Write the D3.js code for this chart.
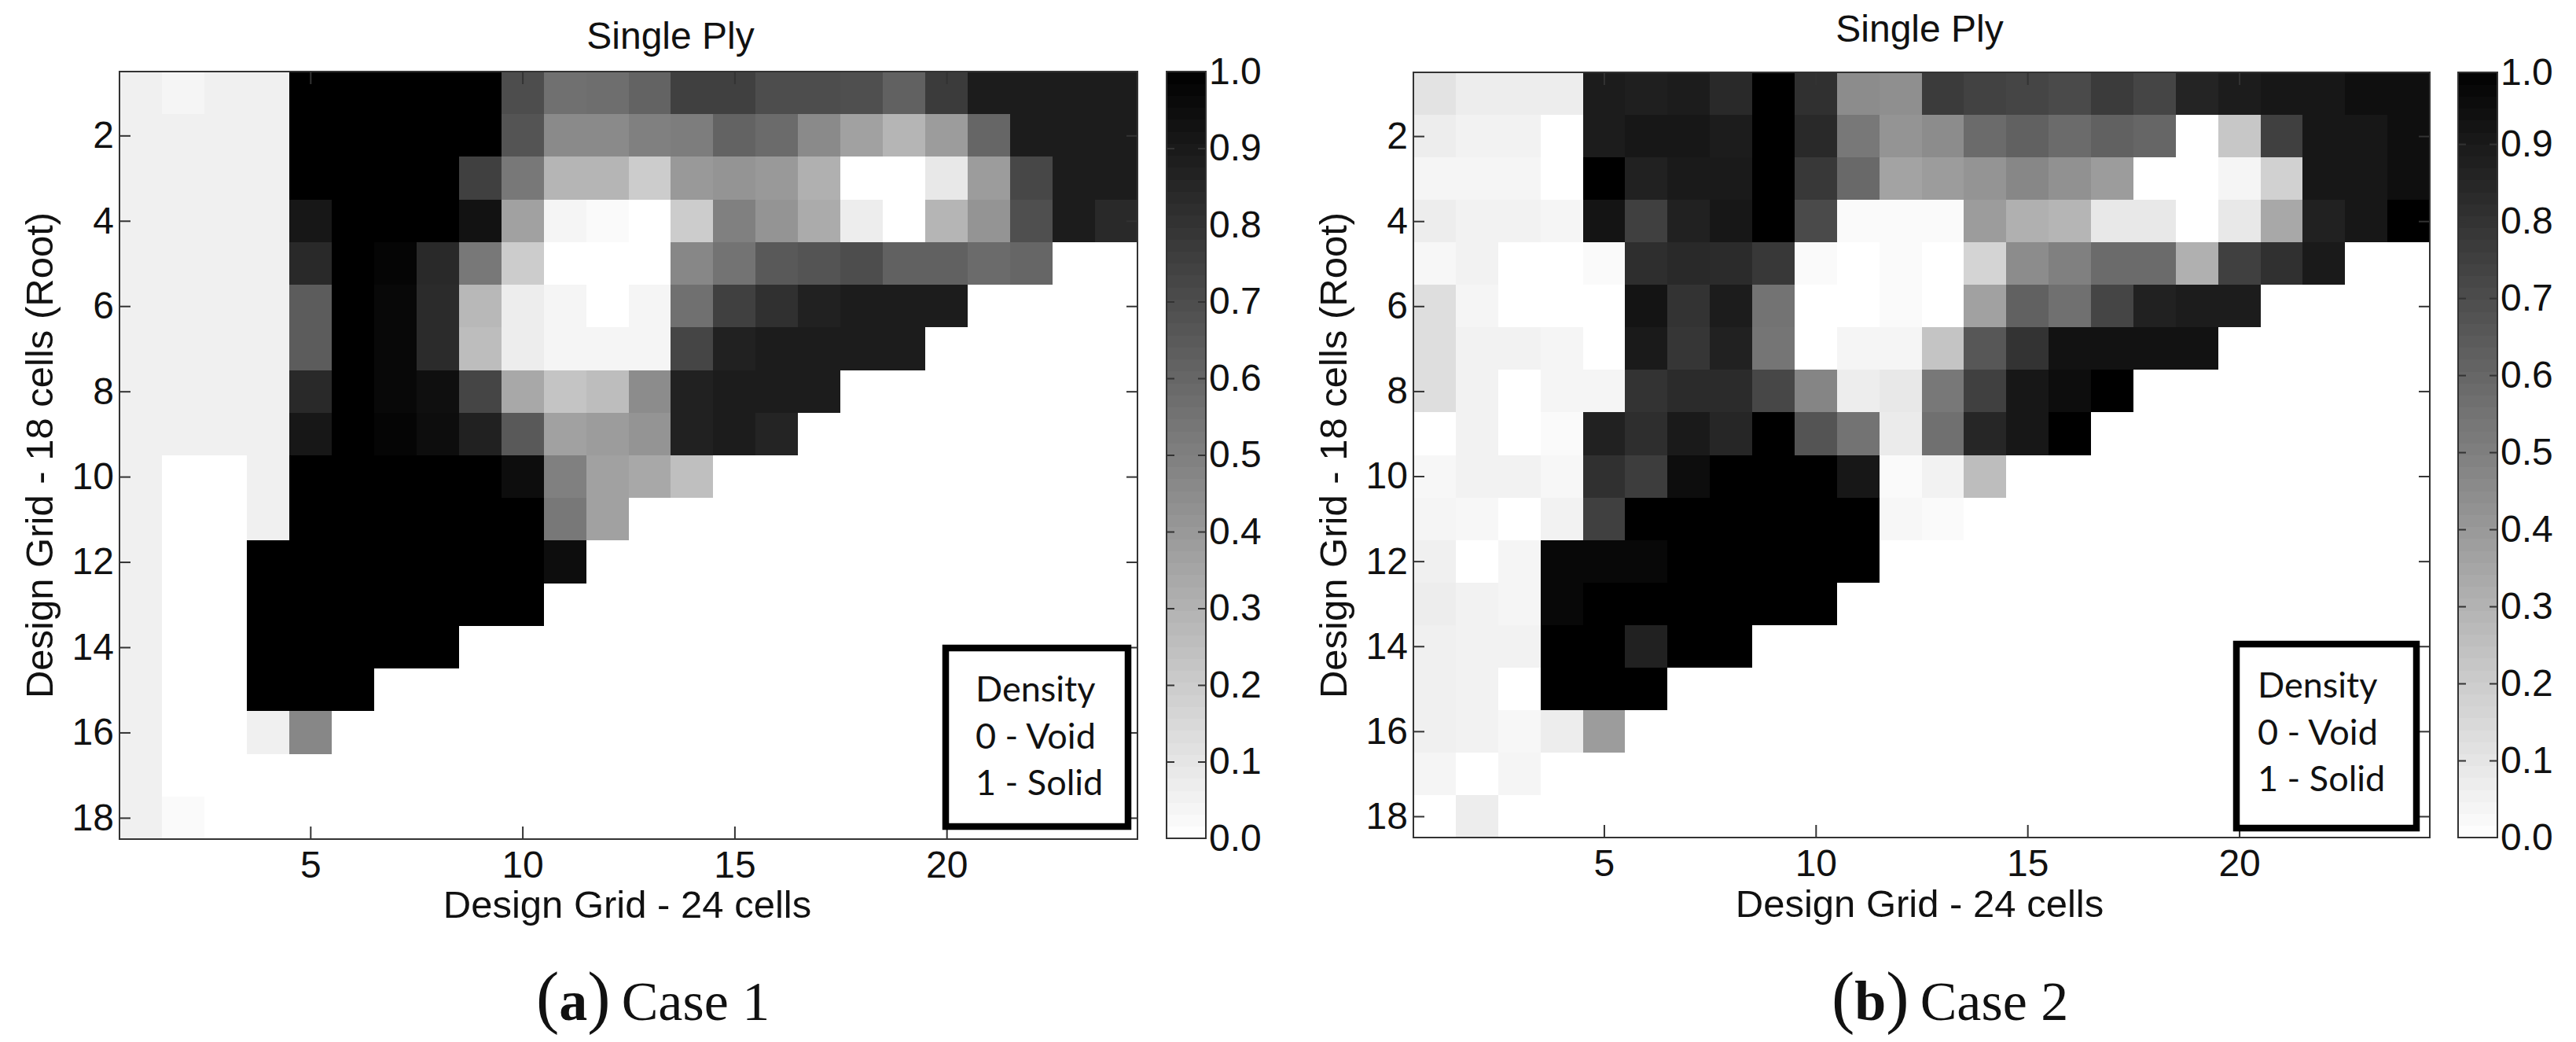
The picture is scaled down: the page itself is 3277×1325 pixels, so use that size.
<!DOCTYPE html>
<html><head><meta charset="utf-8">
<script src="https://cdn.jsdelivr.net/npm/d3@7"></script>
<style>
html,body{margin:0;padding:0;background:#fff;overflow:hidden}
svg{display:block}
text{font-family:"Liberation Sans",Arial,sans-serif;fill:#111}
</style></head><body>
<svg id="c" width="3277" height="1325"></svg>
<script>
// Density per row (1..18), column 1 first. A row stops where the void region begins.
const caseOneDensity = [
[.06,.04,.06,.06,1,1,1,1,1,.70,.56,.57,.61,.75,.75,.70,.70,.69,.62,.77,.89,.89,.89,.89],
[.06,.06,.06,.06,1,1,1,1,1,.67,.46,.46,.50,.51,.61,.58,.46,.37,.29,.39,.60,.89,.89,.89],
[.06,.06,.06,.06,1,1,1,1,.75,.53,.29,.29,.20,.40,.42,.40,.31,0,0,.09,.39,.72,.89,.89],
[.06,.06,.06,.06,.91,1,1,1,.93,.37,.04,.02,0,.20,.50,.42,.33,.07,0,.29,.42,.69,.89,.84],
[.06,.06,.06,.06,.84,1,.98,.84,.53,.20,0,0,0,.47,.55,.65,.67,.70,.62,.62,.58,.60],
[.06,.06,.06,.06,.64,1,.97,.83,.28,.07,.04,0,.04,.56,.75,.81,.87,.89,.89,.89],
[.06,.06,.06,.06,.64,1,.97,.83,.26,.07,.04,.04,.04,.73,.87,.89,.89,.89,.89],
[.06,.06,.06,.06,.84,1,.97,.94,.73,.34,.23,.26,.45,.87,.89,.89,.89],
[.06,.06,.06,.06,.91,1,.98,.95,.87,.65,.37,.39,.42,.87,.89,.86],
[.06,0,0,.06,1,1,1,1,1,.95,.50,.37,.34,.25],
[.06,0,0,.06,1,1,1,1,1,1,.53,.37],
[.06,0,0,1,1,1,1,1,1,1,.95],
[.06,0,0,1,1,1,1,1,1,1],
[.06,0,0,1,1,1,1,1],
[.06,0,0,1,1,1],
[.06,0,0,.06,.47],
[.06],
[.06,.02]
];
const caseTwoDensity = [
[.11,.07,.07,.07,.89,.88,.89,.84,1,.81,.45,.44,.77,.74,.73,.71,.77,.73,.86,.89,.91,.91,.94,.94],
[.07,.05,.05,0,.89,.91,.91,.89,1,.84,.53,.42,.45,.58,.62,.58,.62,.60,0,.22,.75,.91,.91,.94],
[.04,.04,.04,0,1,.87,.90,.90,1,.78,.59,.36,.39,.42,.47,.43,.39,0,0,.04,.18,.91,.91,.94],
[.07,.05,.05,.04,.92,.75,.87,.91,1,.71,.02,.02,.02,.39,.31,.29,.09,.09,0,.09,.34,.87,.91,1],
[.03,.05,0,0,.02,.82,.84,.83,.78,.02,0,.02,0,.17,.45,.50,.58,.58,.31,.75,.81,.90],
[.13,.04,0,0,0,.92,.80,.89,.55,0,0,.02,0,.37,.62,.56,.73,.87,.89,.89],
[.13,.05,.05,.04,0,.90,.79,.87,.54,0,.04,.04,.23,.66,.80,.93,.93,.93,.93],
[.13,.05,0,.04,.04,.80,.83,.83,.72,.48,.07,.09,.53,.75,.91,.95,1],
[0,.05,0,.02,.87,.82,.90,.85,1,.67,.55,.08,.56,.85,.91,1],
[.03,.05,.05,.03,.81,.76,.95,1,1,1,.91,.02,.05,.26],
[.04,.03,0,.05,.75,1,1,1,1,1,1,.03,.02],
[.06,0,.04,.97,.97,.97,1,1,1,1,1],
[.07,.05,.04,.97,1,1,1,1,1,1],
[.06,.05,.05,1,1,.87,1,1],
[.06,.05,0,1,1,1],
[.06,.05,.03,.07,.39],
[.04,0,.04],
[0,.07]
];
const xTicks = [5,10,15,20];
const yTicks = [2,4,6,8,10,12,14,16,18];
const barTicks = [0,.1,.2,.3,.4,.5,.6,.7,.8,.9,1];
const title = "Single Ply";
const xTitle = "Design Grid - 24 cells";
const yTitle = "Design Grid - 18 cells (Root)";
const legendLines = ["Density","0 - Void","1 - Solid"];
const captionOne = ["a","Case 1"];
const captionTwo = ["b","Case 2"];

const svg = d3.select("#c");
const gray = d3.scaleLinear().domain([0,1]).range(["#ffffff","#000000"]);

const panels = [
 {data:caseOneDensity, x0:152,x1:1447,y0:91,y1:1067,
  titleX:853,titleY:62,xLabX:798,xLabY:1167,yLabX:67,yLabY:579,
  bar:[1484,1534,91,1066],barMax:1,
  leg:[1199,820,240,235],legX:1241,legY:[892,952,1011],
  cap:captionOne,capX:682,capY:1297},
 {data:caseTwoDensity, x0:1798,x1:3091,y0:92,y1:1065,
  titleX:2442,titleY:53,xLabX:2442,xLabY:1166,yLabX:1713,yLabY:579,
  bar:[3127,3177,92,1065],barMax:.993,
  leg:[2841,815,237,242],legX:2872,legY:[887,947,1006],
  cap:captionTwo,capX:2330,capY:1297}
];

function styleAxis(g){
  g.select(".domain").remove();
  g.selectAll("line").attr("stroke","#333").attr("stroke-width",2);
  g.selectAll("text").attr("font-size",48).attr("fill","#111")
   .attr("font-family",'"Liberation Sans",Arial,sans-serif');
}

panels.forEach(p=>{
  const g = svg.append("g");
  const x = d3.scaleLinear().domain([.5,24.5]).range([p.x0,p.x1]);
  const y = d3.scaleLinear().domain([.5,18.5]).range([p.y0,p.y1]);

  p.data.forEach((row,r)=>{
    g.append("g").selectAll("rect").data(row).join("rect")
     .attr("x",(d,c)=>x(c+.5)).attr("width",(d,c)=>x(c+1.5)-x(c+.5))
     .attr("y",y(r+.5)).attr("height",y(r+1.5)-y(r+.5))
     .attr("fill",d=>gray(d)).attr("shape-rendering","crispEdges");
  });

  g.append("g").attr("transform",`translate(0,${p.y1})`)
   .call(d3.axisBottom(x).tickValues(xTicks).tickSize(-16).tickPadding(15)).call(styleAxis);
  g.append("g").attr("transform",`translate(0,${p.y0})`)
   .call(d3.axisTop(x).tickValues(xTicks).tickSize(-16).tickFormat("")).call(styleAxis);
  g.append("g").attr("transform",`translate(${p.x0},0)`)
   .call(d3.axisLeft(y).tickValues(yTicks).tickSize(-14).tickPadding(7)).call(styleAxis);
  g.append("g").attr("transform",`translate(${p.x1},0)`)
   .call(d3.axisRight(y).tickValues(yTicks).tickSize(-14).tickFormat("")).call(styleAxis);

  g.append("rect").attr("x",p.x0).attr("y",p.y0).attr("width",p.x1-p.x0).attr("height",p.y1-p.y0)
   .attr("fill","none").attr("stroke","#333").attr("stroke-width",2);

  g.append("text").attr("x",p.titleX).attr("y",p.titleY).attr("text-anchor","middle")
   .attr("font-size",48).text(title);
  g.append("text").attr("x",p.xLabX).attr("y",p.xLabY).attr("text-anchor","middle")
   .attr("font-size",49).text(xTitle);
  g.append("text").attr("transform",`translate(${p.yLabX},${p.yLabY}) rotate(-90)`)
   .attr("text-anchor","middle").attr("font-size",49).text(yTitle);

  // colour bar
  const [bx0,bx1,by0,by1] = p.bar;
  const by = d3.scaleLinear().domain([0,p.barMax]).range([by1,by0]).clamp(true);
  const levels = d3.range(64).map(i=>i/64*p.barMax);
  const step = p.barMax/64;
  g.append("g").selectAll("rect").data(levels).join("rect")
   .attr("x",bx0).attr("width",bx1-bx0)
   .attr("y",d=>by(d+step)).attr("height",d=>by(d)-by(d+step)+.5)
   .attr("fill",d=>gray(d+step/2)).attr("shape-rendering","crispEdges");
  const inner = barTicks.slice(1,-1);
  g.append("g").attr("transform",`translate(${bx0},0)`)
   .call(d3.axisLeft(by).tickValues(inner).tickSize(-10).tickFormat("")).call(styleAxis);
  g.append("g").attr("transform",`translate(${bx1},0)`)
   .call(d3.axisRight(by).tickValues(inner).tickSize(-10).tickFormat("")).call(styleAxis);
  g.append("g").attr("transform",`translate(${bx1},0)`)
   .call(d3.axisRight(by).tickValues(barTicks).tickSize(0).tickPadding(4).tickFormat(d3.format(".1f"))).call(styleAxis);
  g.append("rect").attr("x",bx0).attr("y",by0).attr("width",bx1-bx0).attr("height",by1-by0)
   .attr("fill","none").attr("stroke","#333").attr("stroke-width",2);

  // density note
  const [lx,ly,lw,lh] = p.leg;
  g.append("rect").attr("x",lx+4).attr("y",ly+4).attr("width",lw-8).attr("height",lh-8)
   .attr("fill","#fff").attr("stroke","#000").attr("stroke-width",8.5);
  legendLines.forEach((t,i)=>{
    g.append("text").attr("x",p.legX).attr("y",p.legY[i]).attr("font-size",45)
     .style("font-family",'Lato,sans-serif').text(t);
  });

  // caption
  const cap = g.append("text").attr("x",p.capX).attr("y",p.capY)
    .style("font-family",'"Liberation Serif",serif').attr("fill","#000");
  cap.append("tspan").attr("font-size",88).text("(");
  cap.append("tspan").attr("font-size",72).attr("font-weight","bold").text(p.cap[0]);
  cap.append("tspan").attr("font-size",88).text(")");
  cap.append("tspan").attr("font-size",70).attr("dx",14).text(p.cap[1]);
});
</script>
</body></html>
